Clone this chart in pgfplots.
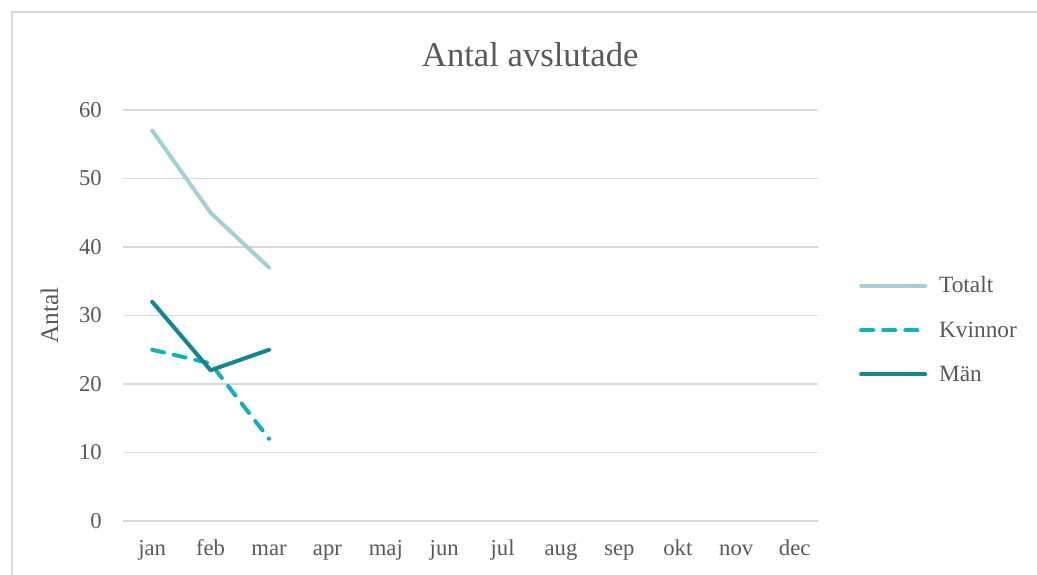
\documentclass[border=0pt]{standalone}
\usepackage{pgfplots}
\pgfplotsset{compat=1.18}
\usepackage{fontspec}
\setmainfont{Liberation Serif}
\definecolor{gridgray}{HTML}{D9D9D9}
\definecolor{txtgray}{HTML}{595959}
\definecolor{ctot}{HTML}{A3CFD6}
\definecolor{ckv}{HTML}{12B0BB}
\definecolor{cman}{HTML}{13878F}
\begin{document}
\begin{tikzpicture}
\begin{axis}[
  name=a,
  scale only axis,
  width=521.25pt, height=308.25pt,
  xmin=-0.5, xmax=11.4,
  ymin=0, ymax=60,
  ytick={0,10,20,30,40,50,60},
  xtick={0,...,11},
  xticklabels={jan,feb,mar,apr,maj,jun,jul,aug,sep,okt,nov,dec},
  major tick length=0pt,
  axis x line*=bottom,
  axis y line*=left,
  x axis line style={draw=gridgray, line width=0.9pt, -},
  y axis line style={draw=none},
  ymajorgrids,
  grid style={draw=gridgray, line width=0.9pt},
  tick label style={font=\fontsize{17}{20}\selectfont, text=txtgray},
  /pgf/number format/assume math mode=true,
  yticklabel style={anchor=east, inner sep=0pt, xshift=-15.75pt},
  xticklabel style={anchor=base, inner sep=0pt, yshift=-25.5pt},
  ylabel={Antal},
  ylabel style={at={(rel axis cs:-0.0935,0.5)}, anchor=base, rotate=0, font=\fontsize{19}{22}\selectfont, text=txtgray},
  title={Antal avslutade},
  title style={at={(rel axis cs:0.586,1.087)}, anchor=base, font=\fontsize{26}{30}\selectfont, text=txtgray},
  legend style={at={(rel axis cs:1.053,0.465)}, anchor=west, draw=none, fill=none,
    font=\fontsize{17.5}{20}\selectfont, text=txtgray, row sep=20pt, column sep=9pt,
    nodes={inner sep=0pt}},
  legend cell align=left,
  legend image code/.code={\draw[#1] (0pt,0pt) -- (48pt,0pt);},
  clip=false,
]
\addplot[ctot, line width=3pt, line cap=round, line join=round] coordinates {(0,57) (1,45) (2,37)};
\addlegendentry{Totalt}
\addplot[ckv, line width=3pt, line cap=round, line join=round, dash pattern=on 9pt off 7.6pt] coordinates {(0,25) (1,23) (2,12)};
\addlegendentry{Kvinnor}
\addplot[cman, line width=3pt, line cap=round, line join=round] coordinates {(0,32) (1,22) (2,25)};
\addlegendentry{Män}
\end{axis}
\draw[overlay, gridgray, line width=1.2pt] ([xshift=-83.25pt,yshift=-60pt]a.south west) -- ([xshift=-83.25pt,yshift=73.5pt]a.north west) -- ([xshift=200pt,yshift=73.5pt]a.north east);
\pgfresetboundingbox
\path[use as bounding box] ([xshift=-92.25pt,yshift=-39.75pt]a.south west) rectangle ([xshift=164.25pt,yshift=82.5pt]a.north east);
\end{tikzpicture}
\end{document}
